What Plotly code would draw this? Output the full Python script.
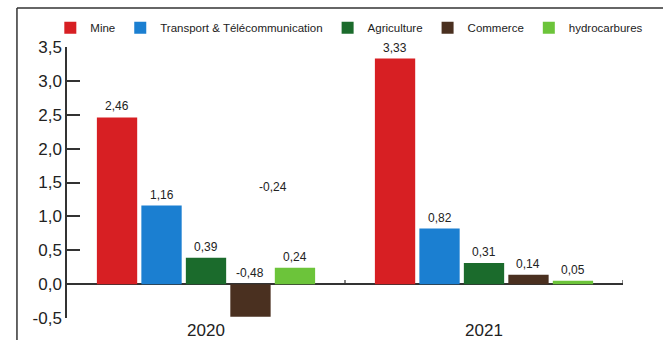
import plotly.graph_objects as go

years = ["2020", "2021"]
sectors = ["Mine", "Transport & Télécommunication", "Agriculture", "Commerce", "hydrocarbures"]
mine = [2.46, 3.33]
transport = [1.16, 0.82]
agriculture = [0.39, 0.31]
commerce = [-0.48, 0.14]
hydrocarbures = [0.24, 0.05]
series = [mine, transport, agriculture, commerce, hydrocarbures]
colors = ["#d71f23", "#1b7fd1", "#1b6b2c", "#4a3020", "#6cc43a"]
y_ticks = [-0.5, 0.0, 0.5, 1.0, 1.5, 2.0, 2.5, 3.0, 3.5]

stray_label = "-0,24"

FONT = "Liberation Sans, Arial, sans-serif"
step = 0.16
width = 0.145
xpos = list(range(len(years)))

fig = go.Figure()
annotations = []
for i, (name, vals, col) in enumerate(zip(sectors, series, colors)):
    off = (i - 2) * step
    xs = [x + off for x in xpos]
    fig.add_trace(go.Bar(
        x=xs, y=vals, name=name, width=width,
        marker=dict(color=col, line=dict(width=0)),
    ))
    for x, v in zip(xs, vals):
        annotations.append(dict(
            x=x, y=max(v, 0), xref="x", yref="y",
            text=f"{v:.2f}".replace(".", ","),
            showarrow=False, yanchor="bottom", yshift=2,
            font=dict(family=FONT, size=12, color="#222"),
        ))

annotations.append(dict(
    x=0.24, y=1.43, xref="x", yref="y", text=stray_label,
    showarrow=False, font=dict(family=FONT, size=12, color="#222"),
))

shapes = [
    # outer frame (left and top edges)
    dict(type="line", xref="paper", yref="paper", x0=-0.09, x1=-0.09, y0=-0.2, y1=1.144,
         line=dict(color="#333", width=1.5)),
    dict(type="line", xref="paper", yref="paper", x0=-0.09, x1=1.1, y0=1.144, y1=1.144,
         line=dict(color="#333", width=1.5)),
]
for b in [0.5, 1.5]:
    shapes.append(dict(type="line", xref="x", yref="y", x0=b, x1=b, y0=0, y1=0.06,
                       line=dict(color="#333", width=1.2)))

fig.update_layout(
    width=663, height=340,
    margin=dict(l=67, r=40, t=47, b=22),
    paper_bgcolor="white", plot_bgcolor="white",
    separators=", ",
    barmode="overlay",
    showlegend=True,
    legend=dict(orientation="h", x=-0.03, y=1.125, xanchor="left", yanchor="top",
                font=dict(family=FONT, size=11.5, color="#222"),
                bgcolor="rgba(0,0,0,0)", itemwidth=30, tracegroupgap=0),
    font=dict(family=FONT),
    annotations=annotations,
    shapes=shapes,
    xaxis=dict(range=[-0.5, 1.5], tickvals=xpos, ticktext=years, showgrid=False,
               showline=False, zeroline=False, ticks="", automargin=False,
               ticklabelstandoff=0,
               tickfont=dict(family=FONT, size=17, color="#222")),
    yaxis=dict(range=[-0.5, 3.5], tickvals=y_ticks,
               ticktext=[f"{t:.1f}".replace(".", ",") for t in y_ticks], showgrid=False,
               showline=True, linecolor="#333", linewidth=1.5, automargin=False,
               ticks="inside", ticklen=13, tickcolor="#333", tickwidth=1.5,
               zeroline=True, zerolinecolor="#333", zerolinewidth=1.5,
               tickfont=dict(family=FONT, size=17, color="#222")),
)

fig.write_html("out.html", config={"displayModeBar": False},
               post_script="document.body.style.margin='0';document.body.style.overflow='hidden';")
